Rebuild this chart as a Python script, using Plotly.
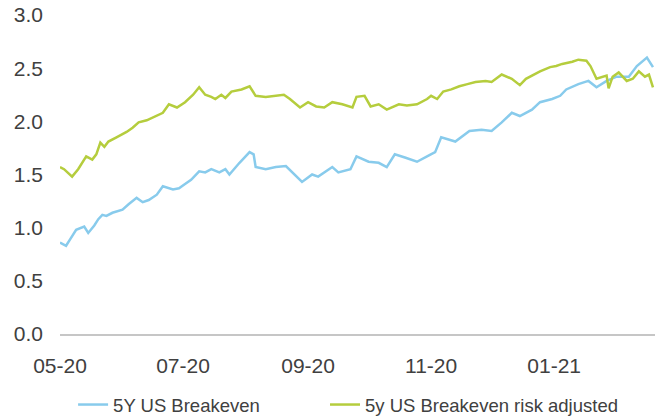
import plotly.graph_objects as go

# 5Y US Breakeven (light blue)
be_dates = ["2020-05-01","2020-05-04","2020-05-06","2020-05-09","2020-05-13","2020-05-15","2020-05-18","2020-05-20",
            "2020-05-22","2020-05-24","2020-05-27","2020-06-01","2020-06-04","2020-06-08","2020-06-11","2020-06-14",
            "2020-06-18","2020-06-21","2020-06-26","2020-06-29","2020-07-02","2020-07-05","2020-07-09","2020-07-12",
            "2020-07-15","2020-07-19","2020-07-22","2020-07-24","2020-07-29","2020-08-03","2020-08-05","2020-08-06",
            "2020-08-11","2020-08-16","2020-08-21","2020-08-24","2020-08-29","2020-09-03","2020-09-06","2020-09-13",
            "2020-09-16","2020-09-22","2020-09-25","2020-10-01","2020-10-06","2020-10-10","2020-10-14","2020-10-19",
            "2020-10-25","2020-10-30","2020-11-03","2020-11-06","2020-11-10","2020-11-13","2020-11-20","2020-11-26",
            "2020-12-01","2020-12-06","2020-12-11","2020-12-15","2020-12-21","2020-12-25","2020-12-31","2021-01-04",
            "2021-01-07","2021-01-13","2021-01-18","2021-01-22","2021-01-27","2021-02-01","2021-02-07","2021-02-11",
            "2021-02-16","2021-02-19"]
be_values = [0.86,0.83,0.89,0.98,1.01,0.95,1.02,1.08,
             1.12,1.11,1.14,1.17,1.22,1.28,1.24,1.26,
             1.31,1.39,1.36,1.37,1.41,1.45,1.53,1.52,
             1.55,1.52,1.55,1.50,1.61,1.71,1.69,1.57,
             1.55,1.57,1.58,1.52,1.43,1.50,1.48,1.57,
             1.52,1.55,1.67,1.62,1.61,1.57,1.69,1.66,
             1.62,1.67,1.71,1.85,1.83,1.81,1.91,1.92,
             1.91,1.99,2.08,2.05,2.11,2.18,2.21,2.24,
             2.30,2.35,2.38,2.32,2.38,2.42,2.42,2.52,
             2.60,2.51]

# 5y US Breakeven risk adjusted (yellow-green)
ra_dates = ["2020-05-01","2020-05-03","2020-05-07","2020-05-10","2020-05-14","2020-05-17","2020-05-19","2020-05-21",
            "2020-05-23","2020-05-25","2020-05-29","2020-06-03","2020-06-06","2020-06-09","2020-06-13","2020-06-18",
            "2020-06-21","2020-06-24","2020-06-28","2020-07-02","2020-07-06","2020-07-09","2020-07-12","2020-07-15",
            "2020-07-17","2020-07-20","2020-07-22","2020-07-25","2020-07-30","2020-08-03","2020-08-06","2020-08-11",
            "2020-08-16","2020-08-20","2020-08-23","2020-08-28","2020-09-01","2020-09-05","2020-09-09","2020-09-13",
            "2020-09-18","2020-09-23","2020-09-25","2020-09-29","2020-10-02","2020-10-06","2020-10-10","2020-10-16",
            "2020-10-20","2020-10-25","2020-10-30","2020-11-01","2020-11-04","2020-11-07","2020-11-11","2020-11-15",
            "2020-11-19","2020-11-23","2020-11-28","2020-12-01","2020-12-06","2020-12-11","2020-12-15","2020-12-18",
            "2020-12-25","2020-12-30","2021-01-02","2021-01-05","2021-01-10","2021-01-13","2021-01-17","2021-01-19",
            "2021-01-22","2021-01-25","2021-01-27","2021-01-28","2021-01-30","2021-02-02","2021-02-06","2021-02-09",
            "2021-02-12","2021-02-15","2021-02-17","2021-02-19"]
ra_values = [1.57,1.55,1.48,1.55,1.67,1.64,1.69,1.80,
             1.76,1.81,1.85,1.90,1.94,1.99,2.01,2.05,
             2.08,2.16,2.13,2.18,2.25,2.32,2.25,2.23,
             2.21,2.25,2.22,2.28,2.30,2.33,2.24,2.23,
             2.24,2.25,2.21,2.13,2.18,2.14,2.13,2.18,
             2.16,2.13,2.23,2.24,2.14,2.16,2.11,2.16,
             2.15,2.16,2.21,2.24,2.21,2.28,2.30,2.33,
             2.35,2.37,2.38,2.37,2.44,2.40,2.34,2.40,
             2.47,2.51,2.52,2.54,2.56,2.58,2.57,2.52,
             2.40,2.42,2.43,2.31,2.42,2.46,2.38,2.40,
             2.47,2.42,2.44,2.32]

y_ticks = [0.0, 0.5, 1.0, 1.5, 2.0, 2.5, 3.0]
y_tick_text = ["0.0", "0.5", "1.0", "1.5", "2.0", "2.5", "3.0"]

BLUE = "#88cbec"
GREEN = "#b5cd3d"
TXT = "#404040"
FONT = "Liberation Sans, Arial, sans-serif"

fig = go.Figure()
fig.add_trace(go.Scatter(x=be_dates, y=be_values, mode="lines", name="5Y US Breakeven",
                         line=dict(color=BLUE, width=2.5), legend="legend"))
fig.add_trace(go.Scatter(x=ra_dates, y=ra_values, mode="lines", name="5y US Breakeven risk adjusted",
                         line=dict(color=GREEN, width=2.5), legend="legend2"))

leg_common = dict(orientation="h", xanchor="left", y=-0.2226, yanchor="middle",
                  font=dict(size=18.5, color=TXT, family=FONT), bgcolor="rgba(0,0,0,0)")

fig.update_layout(
    width=655, height=418,
    margin=dict(l=60, r=0, t=15, b=84, autoexpand=False),
    paper_bgcolor="white", plot_bgcolor="white",
    font=dict(family=FONT, color=TXT),
    showlegend=True,
    legend=dict(x=0.022, **leg_common),
    legend2=dict(x=0.4454, **leg_common),
)
fig.update_xaxes(type="date", range=["2020-05-01", "2021-02-20"],
                 tick0="2020-05-01", dtick="M2", tickformat="%m-%y",
                 showgrid=False, zeroline=False, automargin=False,
                 showline=True, linecolor="#c6c6c6", linewidth=1.5,
                 ticks="", ticklabelstandoff=12,
                 tickfont=dict(size=21, color=TXT, family=FONT))
fig.update_yaxes(range=[0, 3.0], tickvals=y_ticks, ticktext=y_tick_text,
                 showgrid=False, zeroline=False, showline=False, automargin=False,
                 ticks="", ticklabelstandoff=16,
                 tickfont=dict(size=21, color=TXT, family=FONT))

fig.write_html("out.html", config={"displayModeBar": False},
               post_script="document.body.style.margin='0';document.body.style.overflow='hidden';")
